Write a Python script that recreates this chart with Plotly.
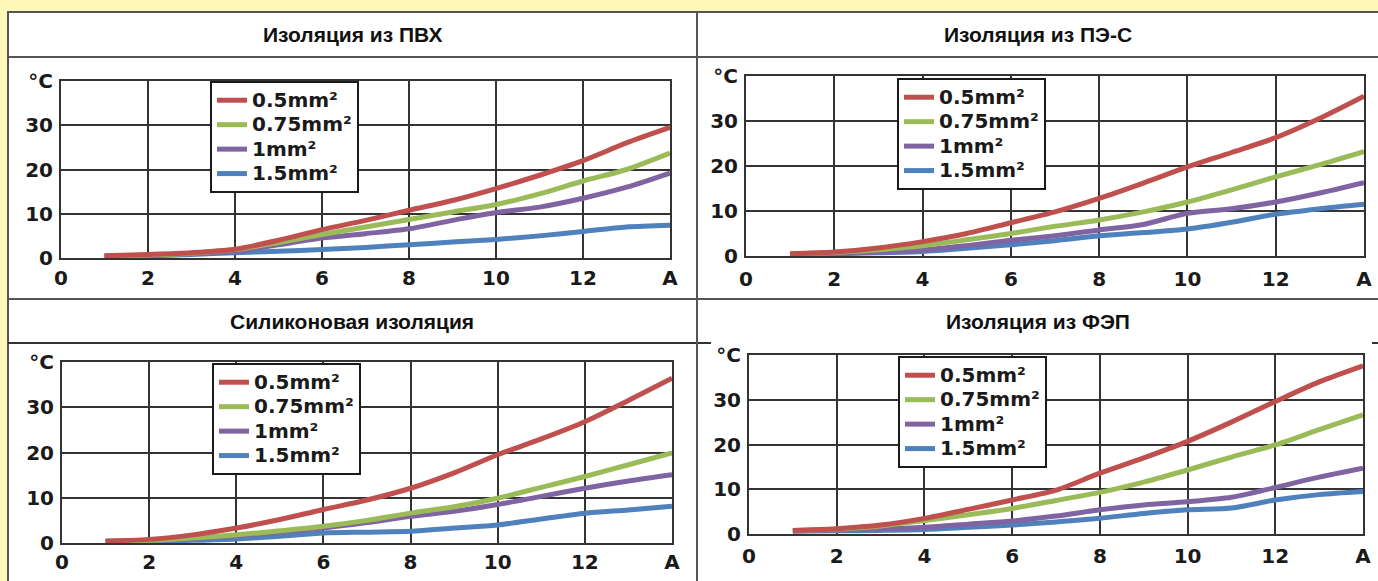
import plotly.graph_objects as go

W, H = 1378, 581

# ---------------- data ----------------
current_a = [1, 2, 3, 4, 5, 6, 7, 8, 9, 10, 11, 12, 13, 14]
series_names = ["0.5mm²", "0.75mm²", "1mm²", "1.5mm²"]
series_colors = ["#C0504D", "#9BBB59", "#8064A2", "#4F81BD"]
panel_titles = ["Изоляция из ПВХ", "Изоляция из ПЭ-С", "Силиконовая изоляция", "Изоляция из ФЭП"]

x_tickvals = [0, 2, 4, 6, 8, 10, 12, 14]
x_ticktext = ["0", "2", "4", "6", "8", "10", "12", "A"]
y_tickvals = [0, 10, 20, 30, 40]
y_ticktext = ["0", "10", "20", "30", "°C"]

pvc_05 = [0.5, 0.8, 1.2, 2.0, 4.0, 6.4, 8.5, 10.8, 13.0, 15.7, 18.7, 22.0, 26.0, 29.5]
pvc_075 = [0.5, 0.7, 1.1, 1.9, 3.5, 5.3, 7.0, 8.7, 10.4, 12.1, 14.5, 17.4, 20.0, 23.7]
pvc_1 = [0.4, 0.6, 1.0, 1.5, 3.0, 4.5, 5.5, 6.6, 8.5, 10.3, 11.5, 13.5, 16.0, 19.2]
pvc_15 = [0.4, 0.5, 0.8, 1.2, 1.5, 1.9, 2.4, 3.0, 3.6, 4.2, 5.0, 6.0, 7.0, 7.4]

pes_05 = [0.5, 0.9, 1.8, 3.2, 5.0, 7.4, 9.8, 12.8, 16.2, 19.8, 23.0, 26.3, 30.6, 35.5]
pes_075 = [0.5, 0.8, 1.4, 2.3, 3.6, 5.0, 6.6, 8.0, 9.8, 12.0, 14.7, 17.6, 20.3, 23.2]
pes_1 = [0.4, 0.6, 0.9, 1.3, 2.3, 3.5, 4.5, 5.8, 7.0, 9.5, 10.5, 12.0, 14.0, 16.3]
pes_15 = [0.4, 0.5, 0.7, 1.0, 1.7, 2.5, 3.4, 4.5, 5.2, 6.0, 7.5, 9.3, 10.5, 11.5]

sil_05 = [0.4, 0.8, 1.8, 3.3, 5.2, 7.4, 9.5, 12.1, 15.5, 19.5, 23.0, 26.8, 31.5, 36.4]
sil_075 = [0.4, 0.6, 1.1, 1.8, 2.7, 3.7, 5.0, 6.6, 8.0, 9.9, 12.3, 14.7, 17.3, 19.9]
sil_1 = [0.4, 0.6, 1.0, 1.6, 2.4, 3.3, 4.5, 5.9, 7.0, 8.5, 10.3, 12.1, 13.7, 15.1]
sil_15 = [0.3, 0.4, 0.6, 0.9, 1.5, 2.2, 2.4, 2.6, 3.3, 4.0, 5.3, 6.6, 7.3, 8.1]

fep_05 = [0.8, 1.2, 2.0, 3.5, 5.5, 7.6, 9.8, 13.6, 17.0, 20.7, 25.0, 29.6, 34.0, 37.6]
fep_075 = [0.8, 1.1, 1.8, 3.0, 4.3, 5.7, 7.5, 9.3, 11.6, 14.3, 17.2, 19.9, 23.3, 26.6]
fep_1 = [0.7, 0.9, 1.1, 1.5, 2.2, 2.9, 4.0, 5.4, 6.5, 7.2, 8.2, 10.4, 12.7, 14.7]
fep_15 = [0.6, 0.7, 0.8, 1.0, 1.5, 2.0, 2.7, 3.5, 4.6, 5.4, 5.8, 7.6, 8.8, 9.5]

panels_data = [
    [pvc_05, pvc_075, pvc_1, pvc_15],
    [pes_05, pes_075, pes_1, pes_15],
    [sil_05, sil_075, sil_1, sil_15],
    [fep_05, fep_075, fep_1, fep_15],
]

# ---------------- layout geometry (pixels) ----------------
# plot areas: (left, right, top, bottom)
plot_boxes = [
    (61, 670, 81, 258),
    (746, 1364, 76, 256),
    (62, 672, 362, 543),
    (749, 1363, 355, 534),
]
x_label_standoff = [1, 4, 0, 3]
legend_pos = [(210, 81), (897, 78), (212, 363), (898, 356)]
title_pos = [(352.5, 34.5), (1037.5, 34.5), (352.5, 321), (1037.5, 321)]


def px(x):
    return x / W


def py(y):
    return 1 - y / H


FONT = "Liberation Sans, Arial, sans-serif"
WIDE = "DejaVu Sans, Verdana, sans-serif"
GRID = "#333333"

fig = go.Figure()
layout_axes = {}
for i, (box, data) in enumerate(zip(plot_boxes, panels_data)):
    n = "" if i == 0 else str(i + 1)
    leg = "legend" if i == 0 else f"legend{i + 1}"
    for j in reversed(range(4)):
        fig.add_trace(go.Scatter(
            x=current_a, y=data[j], mode="lines",
            name=f'<span style="font-size:20px">{series_names[j]}</span>',
            line=dict(color=series_colors[j], width=5, shape="spline", smoothing=0.8),
            xaxis=f"x{n}", yaxis=f"y{n}", legend=leg, hoverinfo="skip",
        ))
    l, r, t, b = box
    layout_axes[f"xaxis{n}"] = dict(
        domain=[px(l), px(r)], range=[0, 14], anchor=f"y{n}",
        tickvals=x_tickvals, ticktext=x_ticktext,
        showgrid=True, gridcolor=GRID, gridwidth=2,
        showline=True, linecolor=GRID, linewidth=2, mirror=True,
        zeroline=False, ticks="", ticklabelstandoff=x_label_standoff[i],
        tickfont=dict(family=WIDE, size=20, color="#1a1a1a", weight="bold"),
        fixedrange=True, automargin=False,
    )
    layout_axes[f"yaxis{n}"] = dict(
        domain=[py(b), py(t)], range=[0, 40], anchor=f"x{n}",
        tickvals=y_tickvals, ticktext=y_ticktext,
        showgrid=True, gridcolor=GRID, gridwidth=2,
        showline=True, linecolor=GRID, linewidth=2, mirror=True,
        zeroline=False, ticks="", ticklabelstandoff=2,
        tickfont=dict(family=WIDE, size=20, color="#1a1a1a", weight="bold"),
        fixedrange=True, automargin=False,
    )
    lx, ly = legend_pos[i]
    layout_axes[leg] = dict(
        x=px(lx), y=py(ly), xanchor="left", yanchor="top",
        bgcolor="white", bordercolor="#1a1a1a", borderwidth=2,
        font=dict(family=WIDE, size=16.5, color="#1a1a1a", weight="bold"),
        traceorder="reversed", itemwidth=30,
    )

shapes = [
    dict(type="rect", xref="paper", yref="paper", x0=px(8), x1=px(1380), y0=py(12), y1=py(583),
         fillcolor="white", line=dict(color="#555555", width=2), layer="below"),
    dict(type="line", xref="paper", yref="paper", x0=px(8), x1=px(1378), y0=py(57), y1=py(57),
         line=dict(color="#555555", width=2)),
    dict(type="line", xref="paper", yref="paper", x0=px(8), x1=px(1378), y0=py(299), y1=py(299),
         line=dict(color="#555555", width=2)),
    dict(type="line", xref="paper", yref="paper", x0=px(8), x1=px(711), y0=py(343), y1=py(343),
         line=dict(color="#333333", width=2)),
    dict(type="line", xref="paper", yref="paper", x0=px(1372), x1=px(1378), y0=py(343), y1=py(343),
         line=dict(color="#333333", width=2)),
    dict(type="line", xref="paper", yref="paper", x0=px(697), x1=px(697), y0=py(12), y1=py(581),
         line=dict(color="#555555", width=2)),
]

annotations = []
for (tx, ty), title in zip(title_pos, panel_titles):
    annotations.append(dict(
        text=title, x=px(tx), y=py(ty), xref="paper", yref="paper",
        xanchor="center", yanchor="middle", showarrow=False,
        font=dict(family=FONT, size=21, color="#111111", weight="bold"),
    ))

fig.update_layout(
    width=W, height=H,
    margin=dict(l=0, r=0, t=0, b=0, pad=0, autoexpand=False),
    paper_bgcolor="#FFF7B7", plot_bgcolor="white",
    shapes=shapes, annotations=annotations, showlegend=True,
    **layout_axes,
)

fig.write_html(
    "out.html",
    config={"displayModeBar": False},
    post_script="document.body.style.margin='0';document.body.style.padding='0';document.body.style.overflow='hidden';",
)
